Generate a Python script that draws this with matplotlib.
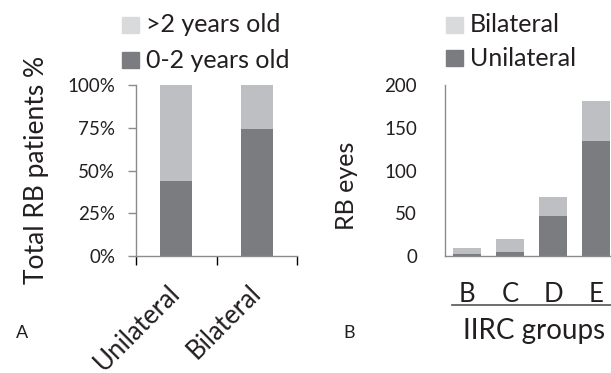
import matplotlib

matplotlib.use("Agg")
import matplotlib.pyplot as plt
from matplotlib.lines import Line2D
from matplotlib.patches import Rectangle

plt.rcParams["font.family"] = ["Lato", "DejaVu Sans"]

# panel A: share of patients by age at diagnosis (fractions)
laterality = ["Unilateral", "Bilateral"]
young_share = [0.44, 0.74]          # 0-2 years old
old_share = [0.56, 0.26]            # >2 years old

# panel B: eyes per IIRC group
groups = ["B", "C", "D", "E"]
unilateral_eyes = [2, 5, 47, 135]
bilateral_eyes = [7, 15, 22, 46]

DARK = "#7b7c80"
LIGHT = "#bebfc3"
LEG_LIGHT = "#d9dadc"
INK = "#231f20"
AXIS = "#8c8c8c"

W, H = 611, 373
fig = plt.figure(figsize=(W / 100, H / 100), dpi=100, facecolor="white")


def px_axes(x0, x1, y0, y1):
    return fig.add_axes([x0 / W, 1 - y1 / H, (x1 - x0) / W, (y1 - y0) / H])


def style(ax):
    for side in ("top", "right"):
        ax.spines[side].set_visible(False)
    for side in ("left", "bottom"):
        ax.spines[side].set_color(AXIS)
        ax.spines[side].set_linewidth(1.0)
    ax.tick_params(colors=AXIS, labelcolor=INK)


# ---- panel A
axA = px_axes(136, 297, 85, 256)
style(axA)
xa = range(len(laterality))
axA.bar(xa, young_share, width=0.4, color=DARK, zorder=2)
axA.bar(xa, old_share, bottom=young_share, width=0.4, color=LIGHT, zorder=2)
axA.set_xlim(-0.5, 1.5)
axA.set_ylim(0, 1)
axA.set_yticks([0, 0.25, 0.5, 0.75, 1.0])
axA.set_yticklabels(["0%", "25%", "50%", "75%", "100%"], fontsize=13.5)
axA.tick_params(axis="y", length=6, width=1, pad=9)
axA.set_xticks([-0.5, 0.5, 1.5], minor=True)
axA.tick_params(axis="x", which="minor", length=6.5, width=1)
axA.set_xticks(list(xa))
axA.set_xticklabels(laterality, fontsize=18.5, rotation=45, ha="right",
                    rotation_mode="anchor")
axA.tick_params(axis="x", which="major", length=0, pad=24)
for lbl in axA.get_xticklabels():
    lbl.set_va("center")
fig.text(37 / W, 1 - 170 / H, "Total RB patients %", rotation=90,
         ha="center", va="center", fontsize=19, color=INK)
fig.text(22 / W, 1 - 333 / H, "A", ha="center", va="center", fontsize=13,
         color=INK)

# ---- panel B
axB = px_axes(445, 618, 85, 256)
style(axB)
xb = range(len(groups))
axB.bar(xb, unilateral_eyes, width=0.65, color=DARK, zorder=2)
axB.bar(xb, bilateral_eyes, bottom=unilateral_eyes, width=0.65, color=LIGHT,
        zorder=2)
axB.set_xlim(-0.5, 3.5)
axB.set_ylim(0, 200)
axB.set_yticks([0, 50, 100, 150, 200])
axB.tick_params(axis="y", length=0, pad=20, labelsize=13.5)
axB.set_xticks(list(xb))
axB.set_xticklabels(groups, fontsize=18.5)
axB.tick_params(axis="x", length=0, pad=19)
axB.add_line(Line2D([0.04, 1.0], [-0.287, -0.287], transform=axB.transAxes,
                    color="#555555", lw=1.2, clip_on=False))
fig.text(534 / W, 1 - 331 / H, "IIRC groups", ha="center", va="center",
         fontsize=20, color=INK)
fig.text(346 / W, 1 - 186 / H, "RB eyes", rotation=90, ha="center",
         va="center", fontsize=18, color=INK)
fig.text(349 / W, 1 - 333 / H, "B", ha="center", va="center", fontsize=13,
         color=INK)

# ---- legends drawn as figure patches
legend_rows = [
    (122, 25, LEG_LIGHT, ">2 years old"),
    (122, 60, DARK, "0-2 years old"),
    (446, 25, LEG_LIGHT, "Bilateral"),
    (446, 58, DARK, "Unilateral"),
]
for x0, yc, col, label in legend_rows:
    fig.patches.append(Rectangle((x0 / W, 1 - (yc + 8) / H), 17 / W, 16 / H,
                                 transform=fig.transFigure, color=col))
    fig.text((x0 + 24) / W, 1 - yc / H, label, ha="left", va="center",
             fontsize=18, color=INK)

fig.savefig("out.png", dpi=100, facecolor="white")
